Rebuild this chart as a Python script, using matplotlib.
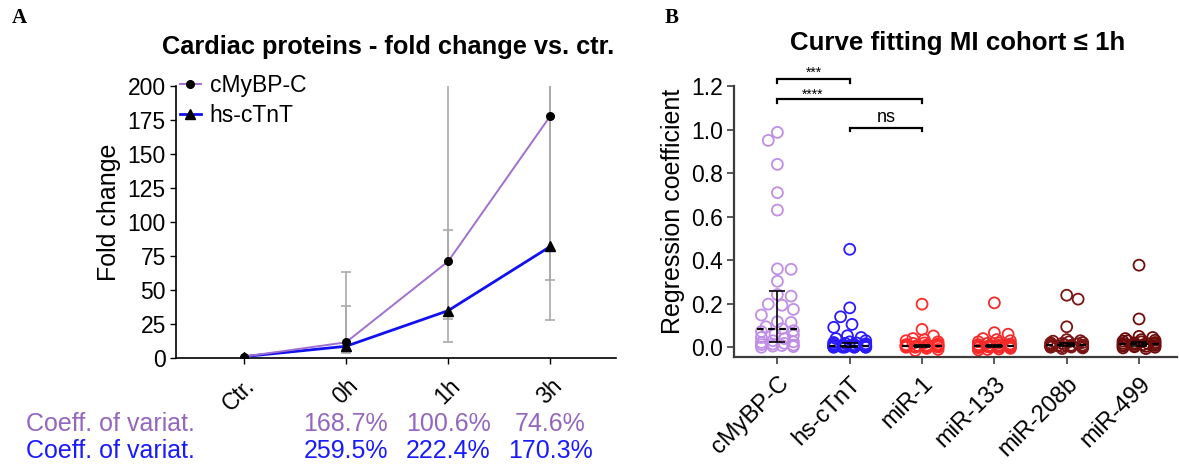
import numpy as np
import matplotlib
matplotlib.use("Agg")
import matplotlib.pyplot as plt
import matplotlib.transforms as mtransforms

plt.rcParams['font.family'] = ['Liberation Sans', 'DejaVu Sans']

# ---------------- Panel A: fold change of cardiac proteins ----------------
timepoints = ['Ctr.', '0h', '1h', '3h']
mybpc_fold = [1.0, 11.5, 71.0, 178.0]
mybpc_low = [1.0, 6.0, 29.0, 57.0]
mybpc_high = [1.0, 63.0, 240.0, 300.0]
ctnt_fold = [1.0, 8.6, 34.8, 82.0]
ctnt_low = [1.0, 3.6, 11.5, 28.0]
ctnt_high = [1.0, 38.0, 93.8, 230.0]
mybpc_cv = ['', '168.7%', '100.6%', '74.6%']
ctnt_cv = ['', '259.5%', '222.4%', '170.3%']

# ---------------- Panel B: regression coefficients ----------------
markers_b = ['cMyBP-C', 'hs-cTnT', 'miR-1', 'miR-133', 'miR-208b', 'miR-499']
coef_mybpc = [0.987, 0.95, 0.84, 0.71, 0.63, 0.36, 0.358, 0.303, 0.242, 0.235,
              0.198, 0.193, 0.174, 0.148, 0.117, 0.114, 0.094, 0.085, 0.076,
              0.072, 0.06, 0.055, 0.045, 0.04, 0.03, 0.025, 0.022, 0.018,
              0.015, 0.012, 0.01, 0.008, 0.005, 0.003, 0.0]
coef_ctnt = [0.45, 0.181, 0.14, 0.105, 0.0915, 0.053, 0.045, 0.04, 0.03, 0.025,
             0.022, 0.02, 0.018, 0.016, 0.014, 0.012, 0.01, 0.009, 0.008, 0.007,
             0.006, 0.005, 0.004, 0.004, 0.003, 0.003, 0.002, 0.002, 0.001,
             0.001, 0.0, 0.0, 0.0, 0.0]
coef_mir1 = [0.198, 0.082, 0.052, 0.04, 0.035, 0.03, 0.025, 0.02, 0.018, 0.015,
             0.012, 0.01, 0.01, 0.008, 0.007, 0.006, 0.005, 0.004, 0.003, 0.002,
             0.001, 0.0, 0.0, -0.005, -0.01, -0.015]
coef_mir133 = [0.204, 0.067, 0.06, 0.04, 0.035, 0.03, 0.025, 0.02, 0.018, 0.015,
               0.012, 0.01, 0.009, 0.008, 0.006, 0.005, 0.004, 0.003, 0.002,
               0.001, 0.0, 0.0, -0.002, -0.005, -0.008, -0.01, -0.012]
coef_mir208b = [0.239, 0.221, 0.094, 0.035, 0.03, 0.028, 0.025, 0.022, 0.02,
                0.018, 0.016, 0.014, 0.012, 0.01, 0.009, 0.008, 0.007, 0.006,
                0.005, 0.004, 0.003, 0.002, 0.001, 0.0, -0.003, -0.006]
coef_mir499 = [0.377, 0.13, 0.05, 0.045, 0.04, 0.035, 0.032, 0.03, 0.028, 0.025,
               0.022, 0.02, 0.018, 0.016, 0.015, 0.013, 0.012, 0.01, 0.008,
               0.006, 0.005, 0.004, 0.002, 0.0, -0.003, -0.006]
coef_median = [0.085, 0.008, 0.006, 0.005, 0.01, 0.015]
coef_q1 = [0.026, 0.002, 0.0, 0.0, 0.004, 0.008]
coef_q3 = [0.259, 0.02, 0.012, 0.012, 0.02, 0.025]
sig_pairs = [(0, 1), (0, 2), (1, 2)]
sig_labels = ['***', '****', 'ns']

purple = '#a070d0'
blue_line = '#1010f0'
cv_purple = '#9466bf'
cv_blue = '#1a1aff'
group_colors = ['#c08ee6', '#2a1aff', '#ff2a2a', '#f42a2a', '#7b1414', '#6e0c0c']

fig = plt.figure(figsize=(11.79, 4.66), dpi=100)

# ======================= Panel A =======================
axA = fig.add_axes([0.1489, 0.2318, 0.3739, 0.5837])
x = np.arange(len(timepoints))
for fold, lo, hi in [(mybpc_fold, mybpc_low, mybpc_high), (ctnt_fold, ctnt_low, ctnt_high)]:
    f = np.array(fold)
    axA.errorbar(x[1:], f[1:], yerr=[f[1:] - np.array(lo)[1:], np.array(hi)[1:] - f[1:]],
                 fmt='none', ecolor='#a9a9a9', elinewidth=1.2, capsize=3.3,
                 capthick=1.2, zorder=1)
l1, = axA.plot(x, mybpc_fold, color=purple, lw=1.4, marker='o', ms=5.5,
               mfc='k', mec='k', zorder=4, label='cMyBP-C')
l2, = axA.plot(x, ctnt_fold, color=blue_line, lw=2.0, marker='^', ms=6.5,
               mfc='k', mec='k', zorder=3, label='hs-cTnT')
axA.set_xlim(-0.667, 3.646)
axA.set_ylim(0, 200)
axA.set_yticks(np.arange(0, 201, 25))
axA.set_xticks(x)
axA.set_xticklabels(timepoints, rotation=45, ha='right', rotation_mode='anchor')
for s in ['top', 'right']:
    axA.spines[s].set_visible(False)
for s in ['left', 'bottom']:
    axA.spines[s].set_linewidth(1.2)
axA.tick_params(axis='both', labelsize=16.5, length=4, width=1.0, pad=3)
axA.tick_params(axis='x', pad=8)
axA.set_ylabel('Fold change', fontsize=18)
axA.yaxis.set_label_coords(-0.124, 0.535)
leg = axA.legend(handles=[l1, l2], loc='upper left', bbox_to_anchor=(180 / 1179, 1 - 74 / 466),
                 bbox_transform=fig.transFigure, frameon=False, fontsize=16.5,
                 handlelength=0.9, handletextpad=0.4, labelspacing=0.3,
                 borderpad=0, borderaxespad=0)
fig.text(388 / 1179, 1 - 47 / 466, 'Cardiac proteins - fold change vs. ctr.',
         ha='center', va='center', fontsize=18.3, fontweight='bold')
fig.text(19 / 1179, 1 - 18 / 466, 'A', ha='center', va='center', fontsize=15,
         fontweight='bold', family='Liberation Serif')

# coefficient of variation rows
fig.text(26 / 1179, 1 - 424 / 466, 'Coeff. of variat.', color=cv_purple,
         ha='left', va='center', fontsize=18)
fig.text(26 / 1179, 1 - 451 / 466, 'Coeff. of variat.', color=cv_blue,
         ha='left', va='center', fontsize=18)
blend = mtransforms.blended_transform_factory(axA.transData, fig.transFigure)
for xi, (a, b) in enumerate(zip(mybpc_cv, ctnt_cv)):
    if a:
        axA.text(xi, 1 - 424 / 466, a, color=cv_purple, ha='center', va='center',
                 fontsize=18, transform=blend, clip_on=False)
    if b:
        axA.text(xi, 1 - 451 / 466, b, color=cv_blue, ha='center', va='center',
                 fontsize=18, transform=blend, clip_on=False)

# ======================= Panel B =======================
axB = fig.add_axes([734 / 1179, 0.2333, 443 / 1179, 0.5822])
axB.set_xlim(-0.60, 5.525)
axB.set_ylim(-0.046, 1.2)


def swarm_offsets(ax, xc, vals, diam_px, half_px):
    """Spread points sideways so that open circles overlap as little as possible."""
    pts = ax.transData.transform(np.column_stack([np.full(len(vals), xc), vals]))
    ys = pts[:, 1]
    cand = np.linspace(-half_px, half_px, 15)
    cand = cand[np.argsort(np.abs(cand), kind='stable')]
    placed = []
    offs = np.zeros(len(vals))
    for i in np.argsort(-ys, kind='stable'):
        best = None
        for c in cand:
            score = 0.0
            for px, py in placed:
                d = np.hypot(c - px, ys[i] - py)
                if d < diam_px:
                    score += diam_px - d
            if best is None or score < best[0] - 1e-9:
                best = (score, c)
        placed.append((best[1], ys[i]))
        offs[i] = best[1]
    px_per_unit = ax.transData.transform((1, 0))[0] - ax.transData.transform((0, 0))[0]
    return offs / px_per_unit


groups = [coef_mybpc, coef_ctnt, coef_mir1, coef_mir133, coef_mir208b, coef_mir499]
for gi, vals in enumerate(groups):
    offs = swarm_offsets(axB, gi, vals, 12, 16)
    axB.scatter(gi + offs, vals, s=62, facecolors='none', edgecolors=group_colors[gi],
                linewidths=1.3, zorder=2, clip_on=False)
    axB.plot([gi - 0.28, gi + 0.28], [coef_median[gi]] * 2, color='k', lw=1.6,
             ls=(0, (3, 2)), zorder=4)
    axB.errorbar([gi], [coef_median[gi]],
                 yerr=[[coef_median[gi] - coef_q1[gi]], [coef_q3[gi] - coef_median[gi]]],
                 fmt='none', ecolor='k', elinewidth=1.2, capsize=6, capthick=1.2, zorder=4)

axB.set_yticks(np.arange(0, 1.21, 0.2))
axB.set_yticklabels(['%.1f' % v for v in np.arange(0, 1.21, 0.2)])
axB.set_xticks(range(len(markers_b)))
axB.set_xticklabels(markers_b, rotation=45, ha='right', rotation_mode='anchor')
for s in ['top', 'right']:
    axB.spines[s].set_visible(False)
for s in ['left', 'bottom']:
    axB.spines[s].set_linewidth(1.6)
    axB.spines[s].set_color('#3c3c3c')
axB.tick_params(axis='both', labelsize=16.5, length=5, width=1.2, color='#3c3c3c', pad=3)
axB.tick_params(axis='x', labelsize=17, pad=6)
axB.set_ylabel('Regression coefficient', fontsize=18)
axB.yaxis.set_label_coords(-0.111, 0.539)

# significance brackets
bracket_y = [1.232, 1.139, 1.0085]
label_pos = [(0.5, 1.262), (0.48, 1.160), (1.51, 1.055)]
label_size = [10, 10, 13]
for (a, b), yb, lab, (tx, ty), fs in zip(sig_pairs, bracket_y, sig_labels, label_pos, label_size):
    axB.plot([a, a, b, b], [yb - 0.017, yb, yb, yb - 0.017], color='k', lw=1.6,
             clip_on=False, solid_joinstyle='miter')
    axB.text(tx, ty, lab, ha='center', va='center', fontsize=fs, clip_on=False)

fig.text(958 / 1179, 1 - 43 / 466, 'Curve fitting MI cohort \u2264 1h', ha='center',
         va='center', fontsize=18.6, fontweight='bold')
fig.text(672 / 1179, 1 - 18 / 466, 'B', ha='center', va='center', fontsize=15,
         fontweight='bold', family='Liberation Serif')

fig.savefig('out.png', dpi=100)
